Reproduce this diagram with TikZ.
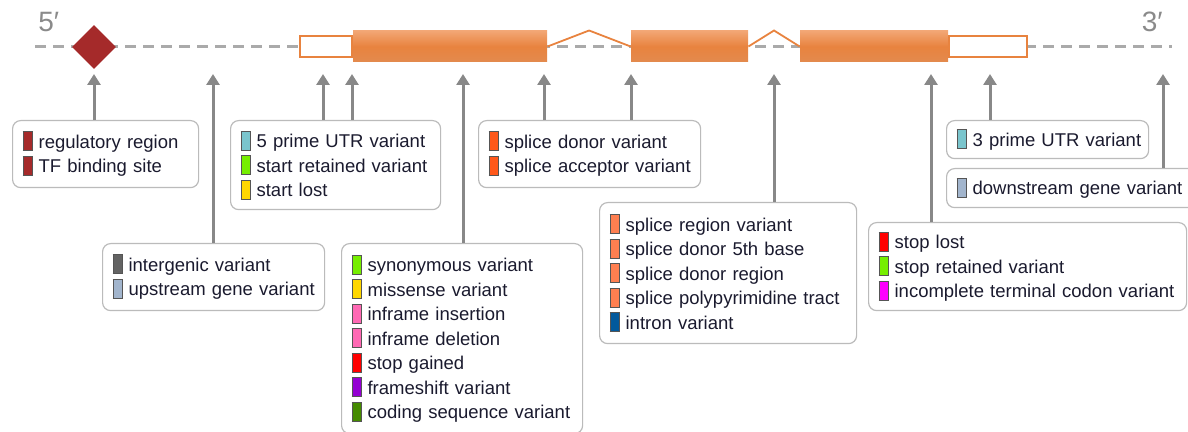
\documentclass[tikz,border=0pt]{standalone}
\usepackage{fontspec}
\setmainfont{Liberation Sans}
\usetikzlibrary{shapes.geometric,arrows.meta,positioning,calc}
\definecolor{exontop}{HTML}{F2A674}
\definecolor{exonmid}{HTML}{E8833F}
\definecolor{exonbot}{HTML}{E38A4E}
\definecolor{regred}{HTML}{A52A2A}
\definecolor{utrteal}{HTML}{7AC5CD}
\definecolor{limegreen}{HTML}{76EE00}
\definecolor{goldyellow}{HTML}{FFD700}
\definecolor{intergray}{HTML}{636363}
\definecolor{upblue}{HTML}{A2B5CD}
\definecolor{inpink}{HTML}{FF69B4}
\definecolor{stopred}{HTML}{FF0000}
\definecolor{framepurple}{HTML}{9400D3}
\definecolor{codinggreen}{HTML}{458B00}
\definecolor{spliceorange}{HTML}{FF581A}
\definecolor{regioncoral}{HTML}{FF7F50}
\definecolor{intronblue}{HTML}{02599C}
\definecolor{incmagenta}{HTML}{FF00FF}
\definecolor{arrowgray}{HTML}{888888}
\definecolor{boxgray}{HTML}{BBBBBB}
\definecolor{backgray}{HTML}{AAAAAA}
\definecolor{primegray}{HTML}{8A8A8A}
\definecolor{textdark}{HTML}{1A1A2E}
\definecolor{swline}{HTML}{555555}
\newcommand{\entry}[2]{\mbox{{\setlength{\fboxsep}{0pt}\setlength{\fboxrule}{0.5pt}\fcolorbox{swline}{#1}{\rule[-1pt]{0pt}{9pt}\hspace{4pt}}}\hspace{3pt}#2}}
\tikzstyle{line} = [draw=arrowgray, line width=1.5pt, -{Triangle[length=5.5pt,width=6.5pt]}]
\tikzstyle{legend} = [draw=boxgray, line width=0.6pt, rectangle, rounded corners=4pt, anchor=north west, align=left, inner xsep=5pt, inner ysep=0pt, text=textdark, font=\fontsize{9.25}{12.25}\selectfont]
\tikzstyle{exon} = [rectangle, inner sep=0pt, minimum height=15.5pt, top color=exontop, bottom color=exonbot, middle color=exonmid]
\tikzstyle{utr} = [draw=exonmid, line width=0.8pt, fill=white, rectangle, inner sep=0pt, minimum height=10.5pt]
\tikzstyle{intron} = [draw=exonmid, line width=0.9pt]
\tikzstyle{backbone} = [draw=backgray, line width=1.5pt, dash pattern=on 5.5pt off 3.5pt]
\tikzstyle{prime} = [text=primegray, font=\fontsize{14}{14}\selectfont, inner sep=0pt]
\begin{document}
\begin{tikzpicture}[x=0.5pt, y=-0.5pt]
        \useasboundingbox (0,0) rectangle (1188,432);
        \coordinate (start) at (35,47);
        \coordinate (end) at (1172,47);
        \path[backbone] (start) -- (end);
        \node[prime, anchor=base west] (five) at (38,32) {5′};
        \node[prime, anchor=base east] (three) at (1163,32) {3′};
        \node[diamond, fill=regred, inner sep=0pt, minimum width=22pt, minimum height=22pt] (tf) at (94,47) {};
        \node[utr, minimum width=26pt] (u5) at (326,46.5) {};
        \node[exon, minimum width=97pt, right=0pt of u5] (e1) {};
        \node[exon, minimum width=58.5pt] (e2) at (689.5,46.5) {};
        \node[exon, minimum width=74pt] (e3) at (874,46.5) {};
        \node[utr, minimum width=39pt, right=0pt of e3] (u3) {};
        \path[intron] (e1.east) -- ($(e1.east)!0.5!(e2.west) + (0,-16)$) -- (e2.west);
        \path[intron] (e2.east) -- ($(e2.east)!0.5!(e3.west) + (0,-16)$) -- (e3.west);

        \node[legend, text width=83pt, minimum height=33.5pt] (reg) at (12,120) {\entry{regred}{regulatory region}\\ \entry{regred}{TF binding site}};
        \node[legend, text width=95pt, minimum height=44.5pt] (utrfive) at (230,120) {\entry{utrteal}{5 prime UTR variant}\\ \entry{limegreen}{start retained variant}\\ \entry{goldyellow}{start lost}};
        \node[legend, text width=101pt, minimum height=33.5pt] (inter) at (102,243) {\entry{intergray}{intergenic variant}\\ \entry{upblue}{upstream gene variant}};
        \node[legend, text width=101pt, minimum height=33.5pt] (splice) at (478,120) {\entry{spliceorange}{splice donor variant}\\ \entry{spliceorange}{splice acceptor variant}};
        \node[legend, text width=110.5pt, minimum height=95pt] (coding) at (341,243) {\entry{limegreen}{synonymous variant}\\ \entry{goldyellow}{missense variant}\\ \entry{inpink}{inframe insertion}\\ \entry{inpink}{inframe deletion}\\ \entry{stopred}{stop gained}\\ \entry{framepurple}{frameshift variant}\\ \entry{codinggreen}{coding sequence variant}};
        \node[legend, text width=118.5pt, minimum height=70.5pt] (region) at (599,202) {\entry{regioncoral}{splice region variant}\\ \entry{regioncoral}{splice donor 5th base}\\ \entry{regioncoral}{splice donor region}\\ \entry{regioncoral}{splice polypyrimidine tract}\\ \entry{intronblue}{intron variant}};
        \node[legend, text width=91pt, minimum height=19pt] (utrthree) at (946,120) {\entry{utrteal}{3 prime UTR variant}};
        \node[legend, text width=115pt, minimum height=19.5pt] (down) at (946,168) {\entry{upblue}{downstream gene variant}};
        \node[legend, text width=149pt, minimum height=44pt] (stop) at (868,222) {\entry{stopred}{stop lost}\\ \entry{limegreen}{stop retained variant}\\ \entry{incmagenta}{incomplete terminal codon variant}};

        \coordinate (t1) at (94,74);
        \coordinate (t2) at (213,74);
        \coordinate (t3) at (323,74);
        \coordinate (t4) at (352,74);
        \coordinate (t5) at (463,74);
        \coordinate (t6) at (544,74);
        \coordinate (t7) at (631,74);
        \coordinate (t8) at (774,74);
        \coordinate (t9) at (931,74);
        \coordinate (t10) at (990,74);
        \coordinate (t11) at (1163,74);
        \path[line] (reg.north -| t1) -- (t1);
        \path[line] (inter.north -| t2) -- (t2);
        \path[line] (utrfive.north -| t3) -- (t3);
        \path[line] (utrfive.north -| t4) -- (t4);
        \path[line] (coding.north -| t5) -- (t5);
        \path[line] (splice.north -| t6) -- (t6);
        \path[line] (splice.north -| t7) -- (t7);
        \path[line] (region.north -| t8) -- (t8);
        \path[line] (stop.north -| t9) -- (t9);
        \path[line] (utrthree.north -| t10) -- (t10);
        \path[line] (down.north -| t11) -- (t11);
    \end{tikzpicture}
\end{document}
